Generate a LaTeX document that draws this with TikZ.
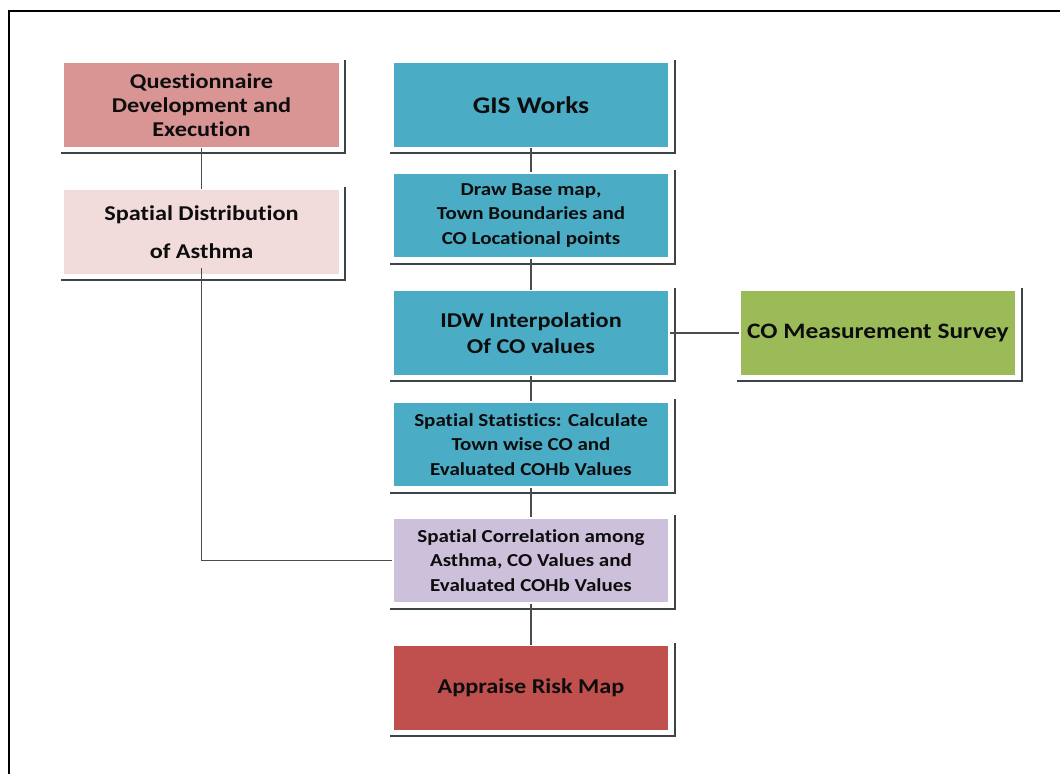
\documentclass[tikz,border=0pt]{standalone}
\usepackage{fontspec}
\setmainfont{Carlito}[FakeStretch=1.15, Ligatures=NoCommon]
\definecolor{questred}{RGB}{217,149,148}
\definecolor{asthmapink}{RGB}{242,220,219}
\definecolor{gisblue}{RGB}{75,172,198}
\definecolor{cogreen}{RGB}{155,187,89}
\definecolor{corrlilac}{RGB}{204,192,218}
\definecolor{riskred}{RGB}{192,80,77}
\definecolor{shadowgrey}{RGB}{60,68,72}
\tikzset{
  flowbox/.style={draw=white, line width=1pt, minimum width=6.9cm, minimum height=2.125cm,
    inner sep=0pt, align=center, text=black!95},
  boxshadow/.style={draw=shadowgrey, line width=1.6pt},
  link/.style={draw=black!70, line width=0.9pt},
}
\begin{document}
\begin{tikzpicture}[x=0.025cm, y=-0.025cm]
    \useasboundingbox (0,0) rectangle (1060,774);
    \draw[line width=2pt] (1060,11) -- (9,11) -- (9,774);

    \node[flowbox, fill=questred, font=\bfseries\fontsize{15}{17}\selectfont] (quest) at (201.5,105)
      {Questionnaire\\Development and\\Execution};
    \node[flowbox, fill=asthmapink, font=\bfseries\fontsize{15}{27}\selectfont] (asthma) at (201.5,232)
      {Spatial Distribution\\of Asthma};

    \node[flowbox, fill=gisblue, font=\bfseries\fontsize{17}{20}\selectfont] (gis) at (531,105)
      {GIS Works};
    \node[flowbox, fill=gisblue, font=\bfseries\fontsize{13}{17.4}\selectfont] (basemap) at (531,215.5)
      {Draw Base map,\\Town Boundaries and\\CO Locational points};
    \node[flowbox, fill=gisblue, font=\bfseries\fontsize{15}{18.4}\selectfont] (idw) at (531,333)
      {IDW Interpolation\\Of CO values};
    \node[flowbox, fill=cogreen, font=\bfseries\fontsize{15.7}{19}\selectfont] (survey) at (878,333)
      {CO Measurement Survey};
    \node[flowbox, fill=gisblue, font=\bfseries\fontsize{13}{17.4}\selectfont] (stats) at (531,444.5)
      {Spatial Statistics: Calculate\\Town wise CO and\\Evaluated COHb Values};
    \node[flowbox, fill=corrlilac, font=\bfseries\fontsize{13}{17.4}\selectfont] (corr) at (531,560.5)
      {Spatial Correlation among\\Asthma, CO Values and\\Evaluated COHb Values};
    \node[flowbox, fill=riskred, font=\bfseries\fontsize{15}{19}\selectfont] (risk) at (531,688)
      {Appraise Risk Map};

    % shadow lines
    \foreach \b in {quest,asthma,gis,basemap,idw,survey,stats,corr,risk}
      \draw[boxshadow] ([shift={(-2,5)}]\b.south west) -- ([shift={(5,5)}]\b.south east)
        -- ([shift={(5,-2)}]\b.north east);

    \draw[link] (quest) -- (asthma);
    \draw[link] (gis) -- (basemap);
    \draw[link] (basemap) -- (idw);
    \draw[link] (idw) -- (stats);
    \draw[link] (stats) -- (corr);
    \draw[link] (corr) -- (risk);
    \draw[link] (idw) -- (survey);
    \draw[link] ([yshift=5]asthma.south) |- (corr.west);
\end{tikzpicture}
\end{document}
